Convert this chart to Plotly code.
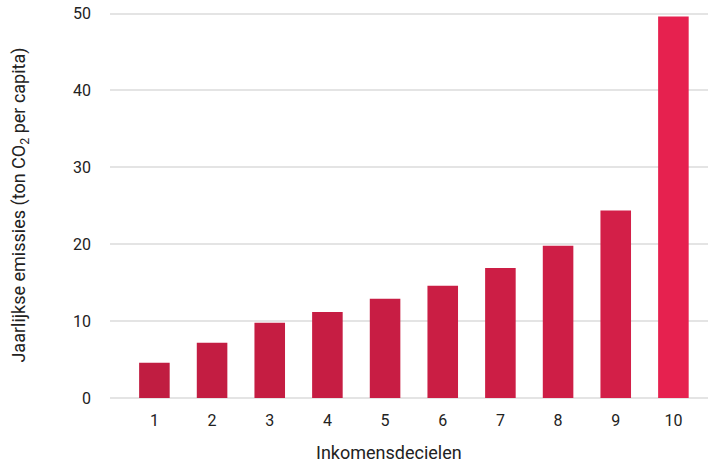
import plotly.graph_objects as go

# data
deciles = [1, 2, 3, 4, 5, 6, 7, 8, 9, 10]
emissions = [4.6, 7.2, 9.8, 11.2, 12.9, 14.6, 16.9, 19.8, 24.4, 49.6]
y_ticks = [0, 10, 20, 30, 40, 50]

fig = go.Figure()

# bars shaded dark -> bright with height (approximates the vertical gradient)
fig.add_trace(go.Bar(
    x=deciles,
    y=emissions,
    width=0.53,
    marker=dict(
        color=emissions,
        cmin=0,
        cmax=45,
        colorscale=[[0, '#bc1c3f'], [1, '#e6214f']],
        line=dict(width=0),
    ),
    showlegend=False,
))

fig.update_layout(
    width=708,
    height=463,
    paper_bgcolor='white',
    plot_bgcolor='white',
    hovermode=False,
    font=dict(family='Roboto, sans-serif', size=16, color='#222222'),
    margin=dict(t=12, b=65, l=110, r=0),
    bargap=0.47,
    xaxis=dict(
        range=[0.23, 10.6],
        tickvals=deciles,
        ticktext=[str(d) for d in deciles],
        showgrid=False,
        zeroline=False,
        showline=False,
        ticks='',
        ticklabelstandoff=11,
        tickfont=dict(size=16),
    ),
    yaxis=dict(
        range=[0, 50.2],
        tickvals=y_ticks,
        showgrid=True,
        gridcolor='#e4e4e4',
        gridwidth=2,
        zeroline=True,
        zerolinecolor='#e4e4e4',
        zerolinewidth=2,
        showline=False,
        ticks='',
        ticklabelstandoff=18,
        tickfont=dict(size=16),
        title=dict(text='Jaarlijkse emissies (ton CO<sub>2</sub> per capita)',
                   font=dict(size=18), standoff=42),
    ),
)

# x title sits a little left of the plot centre in the original
fig.add_annotation(
    text='Inkomensdecielen',
    xref='paper', yref='paper',
    x=0.467, y=-0.14,
    xanchor='center', yanchor='middle',
    showarrow=False,
    font=dict(size=18),
)

# page body has a default 8px margin; remove it so the figure sits at 0,0
fig.write_html("out.html", config={'displayModeBar': False},
               post_script="document.body.style.margin='0';")
